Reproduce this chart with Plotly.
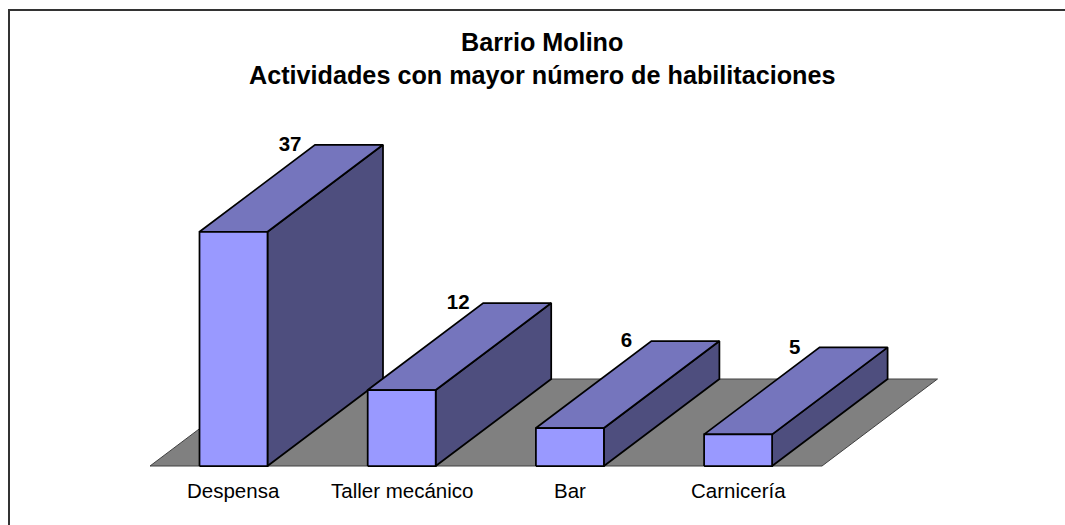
import plotly.graph_objects as go

categories = ["Despensa", "Taller mecánico", "Bar", "Carnicería"]
values = [37, 12, 6, 5]
tick_labels = ["Despensa", "Taller mecánico", "Bar", "Carnicería"]

W, H = 1065, 525
CAT_PX = 168.2      # pixels per category
VAL_PX = 6.33       # pixels per value unit
X0_PX, Y0_PX = 233.5, 59   # first category centre, baseline from bottom
BAR_W = 68 / CAT_PX
DX = 115.5 / CAT_PX   # depth offset in x axis units
DY = 87 / VAL_PX      # depth offset in y axis units
FLOOR_L = (150 - X0_PX) / CAT_PX
FLOOR_R = (822 - X0_PX) / CAT_PX

FRONT, TOP, SIDE = "#9999FF", "#7575BD", "#4E4E7E"


def poly(xs, ys, fill, width=1.75, color="#000000"):
    return go.Scatter(x=xs + xs[:1], y=ys + ys[:1], mode="lines", fill="toself",
                      fillcolor=fill, line=dict(color=color, width=width),
                      hoverinfo="skip", showlegend=False)


fig = go.Figure()
# floor
fig.add_trace(poly([FLOOR_L, FLOOR_R, FLOOR_R + DX, FLOOR_L + DX], [0, 0, DY, DY], "#808080", 1, "#404040"))

for i, v in enumerate(values):
    l, r = i - BAR_W / 2, i + BAR_W / 2
    fig.add_trace(poly([r, r + DX, r + DX, r], [0, DY, v + DY, v], SIDE))
    fig.add_trace(poly([l, r, r + DX, l + DX], [v, v, v + DY, v + DY], TOP))
    fig.add_trace(poly([l, r, r, l], [0, 0, v, v], FRONT))

# value labels
fig.add_trace(go.Scatter(
    x=[i + DX / 2 - 0.007 for i in range(len(values))],
    y=[v + DY - 0.2 for v in values],
    mode="text", text=[str(v) for v in values], textposition="middle center",
    textfont=dict(family="Liberation Sans", size=20.5, color="#000000", weight="bold"),
    hoverinfo="skip", showlegend=False))

fig.update_layout(
    width=W, height=H,
    margin=dict(l=0, r=0, t=0, b=0),
    paper_bgcolor="#FFFFFF", plot_bgcolor="#FFFFFF",
    showlegend=False,
    xaxis=dict(range=[-X0_PX / CAT_PX, (W - X0_PX) / CAT_PX], visible=True, showgrid=False,
               zeroline=False, showline=False, showticklabels=False, ticks="", fixedrange=True),
    yaxis=dict(range=[-Y0_PX / VAL_PX, (H - Y0_PX) / VAL_PX], showgrid=False, zeroline=False,
               showline=False, showticklabels=False, ticks="", fixedrange=True),
    shapes=[dict(type="rect", xref="paper", yref="paper", x0=9 / W, x1=1.2, y0=-0.2, y1=1 - 10 / H,
                 line=dict(color="#333333", width=2), fillcolor="rgba(0,0,0,0)")],
    annotations=[
        dict(text="Barrio Molino<br>Actividades con mayor número de habilitaciones",
             xref="paper", yref="paper", x=542 / W, y=1 - 58 / H, yanchor="middle", showarrow=False,
             font=dict(family="Liberation Sans", size=25.2, color="#000000", weight="bold")),
    ] + [
        dict(text=t, xref="x", yref="paper", x=i, y=1 - 490 / H, yanchor="middle", showarrow=False,
             font=dict(family="Liberation Sans", size=20.5, color="#000000"))
        for i, t in enumerate(tick_labels)
    ],
)
fig.write_html("out.html", config={"displayModeBar": False},
               post_script="document.body.style.margin='0';")
